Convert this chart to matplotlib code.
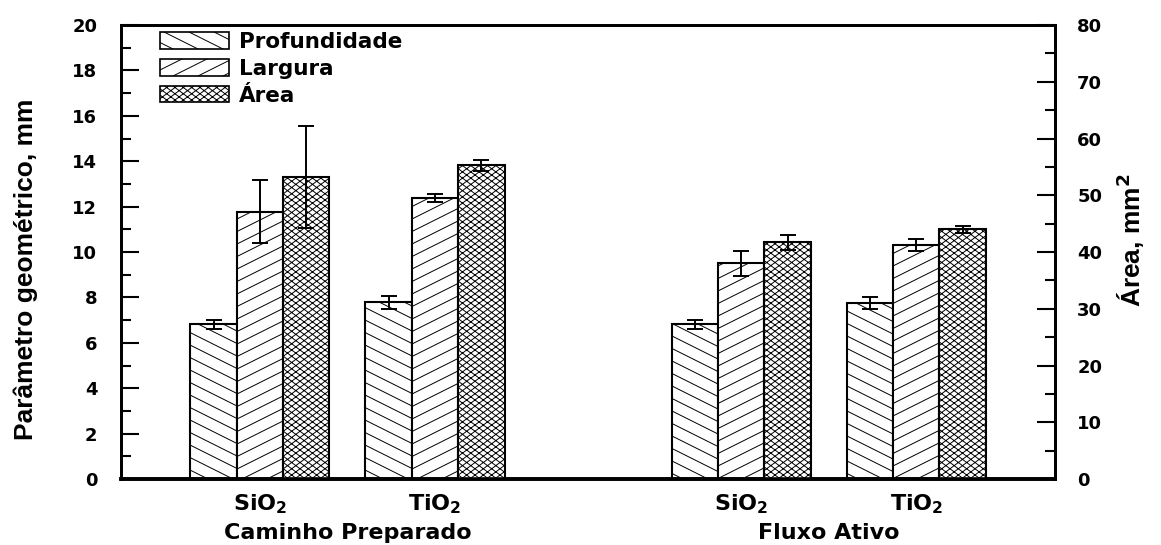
import numpy as np
import matplotlib
matplotlib.use('Agg')
import matplotlib.pyplot as plt
import matplotlib.patches as mpatches
import matplotlib.transforms as mtransforms
import matplotlib.hatch as mhatch
from matplotlib.path import Path
from matplotlib.ticker import MultipleLocator

plt.rcParams['font.family'] = 'DejaVu Sans'
plt.rcParams['font.weight'] = 'bold'
plt.rcParams['mathtext.default'] = 'bf'
plt.rcParams['hatch.linewidth'] = 0.7

# --- data ---
groups = ['Caminho Preparado', 'Fluxo Ativo']
oxides = ['SiO$_2$', 'TiO$_2$', 'SiO$_2$', 'TiO$_2$']
x_pos = [0, 1, 2.75, 3.75]
group_members = [[0, 1], [2, 3]]

profundidade = [6.81, 7.78, 6.81, 7.76]
profundidade_err = [0.20, 0.27, 0.20, 0.27]
largura = [11.78, 12.38, 9.50, 10.32]
largura_err = [1.40, 0.19, 0.56, 0.26]
area = [53.3, 55.3, 41.7, 44.0]      # mm^2, right axis
area_err = [9.0, 1.0, 1.3, 0.65]

labels = ['Profundidade', 'Largura', 'Área']
hatches = ['r', 'l', 'k']   # shallow hatches, see below


# the original hatching is flatter than matplotlib's 45 deg lines:
# 'l' rises to the right, 'r' falls to the right, 'k' is a flat cross
class ShallowHatch(mhatch.HatchPatternBase):
    def __init__(self, hatch, density):
        self.sets = []
        for ch, slopes, n in (('l', [0.5], 8), ('r', [-0.5], 8),
                              ('k', [0.75, -0.75], 16)):
            for _ in range(hatch.count(ch)):
                for s in slopes:
                    self.sets.append((s, n))
        self.num_vertices = sum(2 * len(self._offsets(s, n)) for s, n in self.sets)

    @staticmethod
    def _offsets(slope, n):
        span = abs(slope) * 2 + 1
        return np.arange(-span, span + 1e-9, 1.0 / n)

    def set_vertices_and_codes(self, vertices, codes):
        i = 0
        for s, n in self.sets:
            for c in self._offsets(s, n):
                vertices[i] = (-0.5, c - 0.5 * s)
                vertices[i + 1] = (1.5, c + 1.5 * s)
                codes[i] = Path.MOVETO
                codes[i + 1] = Path.LINETO
                i += 2


mhatch._hatch_types.append(ShallowHatch)

fig = plt.figure(figsize=(11.61, 5.45), dpi=100)
ax = fig.add_axes([0.1042, 0.1211, 0.8045, 0.8329])
ax2 = ax.twinx()

x = np.array(x_pos)
w = 0.265
bar_kw = dict(facecolor='white', edgecolor='black', linewidth=1.5, capsize=5.5,
              error_kw=dict(elinewidth=1.4, capthick=1.4, ecolor='black'))

ax.bar(x - w, profundidade, w, yerr=profundidade_err, hatch=hatches[0], **bar_kw)
ax.bar(x, largura, w, yerr=largura_err, hatch=hatches[1], **bar_kw)
ax2.bar(x + w, area, w, yerr=area_err, hatch=hatches[2], **bar_kw)

# axes limits and ticks
ax.set_xlim(-0.794, 4.543)
ax.set_ylim(0, 20)
ax2.set_ylim(0, 80)
ax.yaxis.set_major_locator(MultipleLocator(2))
ax.yaxis.set_minor_locator(MultipleLocator(1))
ax2.yaxis.set_major_locator(MultipleLocator(10))
ax2.yaxis.set_minor_locator(MultipleLocator(5))

ax.tick_params(axis='y', which='major', direction='in', length=13, width=1.5,
               labelsize=13, pad=17, right=False)
ax.tick_params(axis='y', which='minor', direction='in', length=7, width=1.5, right=False)
ax2.tick_params(axis='y', which='major', direction='in', length=13, width=1.5,
                labelsize=13, pad=16, left=False)
ax2.tick_params(axis='y', which='minor', direction='in', length=7, width=1.5, left=False)

ax.set_xticks(x_pos, oxides)
ax.tick_params(axis='x', length=0, labelsize=16, pad=10)

for a in (ax, ax2):
    for s in a.spines.values():
        s.set_linewidth(2)
    a.spines['bottom'].set_linewidth(2.6)

# axis labels
ax.set_ylabel('Parâmetro geométrico, mm', family='Liberation Sans', fontsize=19,
              fontweight='bold', ha='center', va='center')
ax.yaxis.set_label_coords(-0.102, 0.4626)
ax2.set_ylabel('Área, mm$^2$', family='Liberation Sans', fontsize=19,
               fontweight='bold', rotation=90, ha='center', va='center')
ax2.yaxis.set_label_coords(1.081, 0.526)

# group labels under the oxide labels
trans = mtransforms.blended_transform_factory(ax.transData, ax.transAxes)
for name, members in zip(groups, group_members):
    xc = np.mean([x_pos[i] for i in members])
    ax.text(xc, -0.119, name, transform=trans, ha='center', va='center', fontsize=16)

# legend
handles = [mpatches.Patch(facecolor='white', edgecolor='black', linewidth=1.2, hatch=h)
           for h in hatches]
ax2.legend(handles, labels, loc='upper left', bbox_to_anchor=(0.042, 0.985),
           frameon=False, fontsize=15.5, handlelength=3.2, handleheight=0.8,
           handletextpad=0.45, labelspacing=0.32, borderpad=0, borderaxespad=0)

fig.savefig('out.png', dpi=100)
